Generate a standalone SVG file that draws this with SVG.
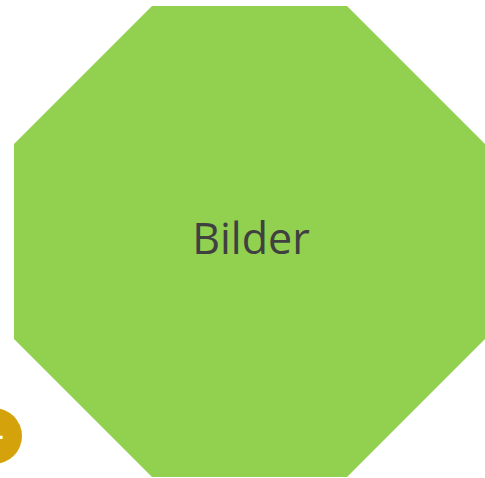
<svg xmlns="http://www.w3.org/2000/svg" width="485" height="478" viewBox="0 0 485 478">
<style>
.oct{fill:#92D050;}
.lbl{font-family:"Open Sans","Liberation Sans",sans-serif;font-size:43px;fill:#404040;text-anchor:middle;}
.badge{fill:#D4A20A;}
.badge-t{font-family:"Liberation Sans",sans-serif;font-size:30px;font-weight:bold;fill:#ffffff;text-anchor:middle;}
</style>
<g id="node-bilder">
<polygon class="oct" points="152,6 347,6 485,144 485,339 347,477 152,477 14,339 14,144"/>
<text class="lbl" x="251" y="254">Bilder</text>
</g>
<g id="node-badge">
<circle class="badge" cx="-6" cy="436" r="28"/>
<text class="badge-t" x="-5" y="447">+</text>
</g>
<g id="connectors"/>
</svg>
